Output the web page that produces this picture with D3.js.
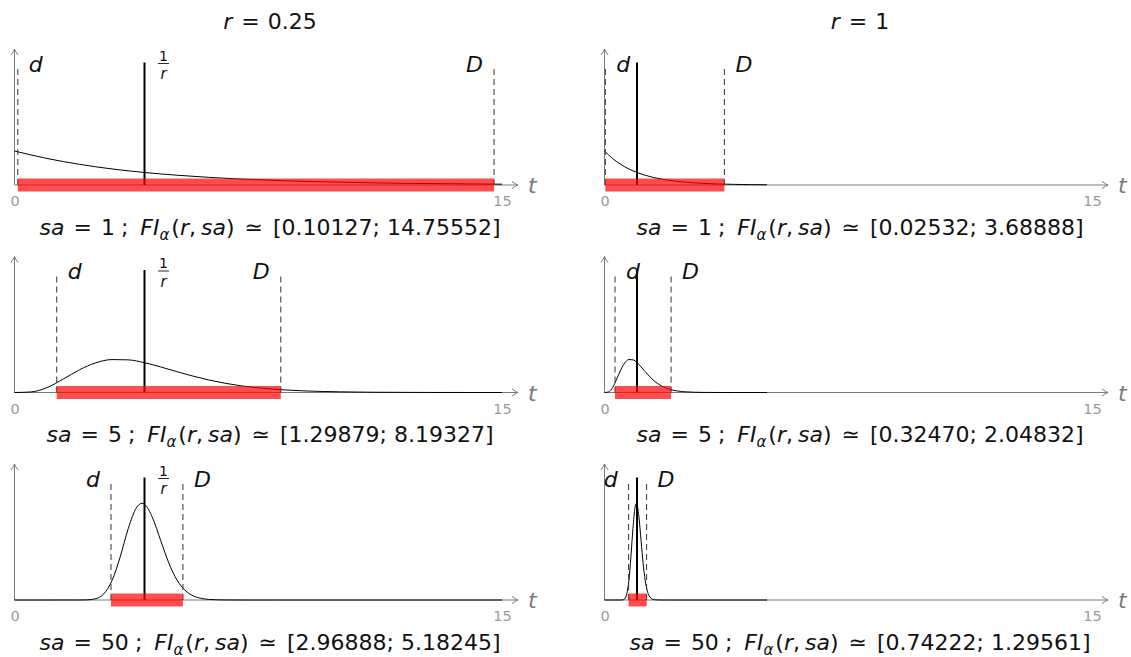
<!DOCTYPE html>
<html><head><meta charset="utf-8">
<script src="https://cdn.jsdelivr.net/npm/d3@7"></script>
<style>
body{margin:0;background:#fff}
svg{display:block}
text{font-family:"DejaVu Sans",sans-serif}
</style>
</head><body>
<svg id="chart" width="1131" height="657"></svg>
<script>
// ---------------- data ----------------
const rValues = [0.25, 1];
const rLabels = ["0.25", "1"];
const saValues = [1, 5, 50];
const inverseR = [4, 1];
const lowerBounds = [[0.10127, 1.29879, 2.96888], [0.02532, 0.32470, 0.74222]];
const upperBounds = [[14.75552, 8.19327, 5.18245], [3.68888, 2.04832, 1.29561]];
const lowerText = [["0.10127", "1.29879", "2.96888"], ["0.02532", "0.32470", "0.74222"]];
const upperText = [["14.75552", "8.19327", "5.18245"], ["3.68888", "2.04832", "1.29561"]];
const xTickValues = [0, 15];
const xTickLabels = ["0", "15"];
const yMaxByColumn = [1, 4];

// density curves (t, f)
const tR025Sa1 = [0,1,2,3,4,5,6,7,8,9,10,11,12,13,14,15];
const fR025Sa1 = [0.250,0.195,0.152,0.118,0.092,0.072,0.056,0.043,0.034,0.026,0.021,0.016,0.012,0.010,0.008,0.006];
const tR025Sa5 = [0,0.5,1,1.5,2,2.5,3,3.5,4,4.5,5,5.5,6,6.5,7,7.5,8,9,10,11,12,13,14,15];
const fR025Sa5 = [0,0.004,0.036,0.099,0.167,0.218,0.242,0.240,0.219,0.188,0.153,0.120,0.091,0.067,0.048,0.034,0.024,0.011,0.005,0.002,0.001,0.0003,0.0001,0];
const tR025Sa50 = [0,1,2,2.25,2.5,2.75,3,3.25,3.5,3.75,3.92,4,4.25,4.5,4.75,5,5.25,5.5,5.75,6,6.5,7,8,15];
const fR025Sa50 = [0,0,0.0001,0.0013,0.0097,0.046,0.143,0.316,0.525,0.678,0.711,0.704,0.603,0.436,0.271,0.147,0.071,0.030,0.012,0.004,0.0004,0,0,0];
const tR1Sa1 = [0,0.25,0.5,0.75,1,1.25,1.5,1.75,2,2.25,2.5,2.75,3,3.25,3.5,3.75,4,4.25,4.5,4.75,5];
const fR1Sa1 = [1,0.779,0.607,0.472,0.368,0.287,0.223,0.174,0.135,0.105,0.082,0.064,0.050,0.039,0.030,0.024,0.018,0.014,0.011,0.009,0.007];
const tR1Sa5 = [0,0.125,0.25,0.375,0.5,0.625,0.75,0.875,1,1.125,1.25,1.375,1.5,1.625,1.75,1.875,2,2.25,2.5,2.75,3,3.5,4,5];
const fR1Sa5 = [0,0.017,0.146,0.395,0.668,0.873,0.969,0.961,0.877,0.752,0.614,0.481,0.364,0.269,0.194,0.136,0.094,0.044,0.019,0.008,0.003,0.0004,0,0];
const tR1Sa50 = [0,0.25,0.5,0.5625,0.625,0.6875,0.75,0.8125,0.875,0.9375,0.98,1,1.0625,1.125,1.1875,1.25,1.3125,1.375,1.4375,1.5,1.625,1.75,2,5];
const fR1Sa50 = [0,0,0.0004,0.005,0.039,0.183,0.570,1.266,2.101,2.712,2.845,2.816,2.412,1.745,1.084,0.588,0.282,0.121,0.047,0.017,0.002,0,0,0];

const curveT = [[tR025Sa1, tR025Sa5, tR025Sa50], [tR1Sa1, tR1Sa5, tR1Sa50]];
const curveF = [[fR025Sa1, fR025Sa5, fR025Sa50], [fR1Sa1, fR1Sa5, fR1Sa50]];

// ---------------- layout ----------------
const colX0 = [14.5, 604.5];
const rowAxisY = [185, 392.5, 600];
const xSpan = 487.5;          // px for t in [0,15]
const xArrowLen = 503.5;      // px from origin to arrow tip
const yLen = 136;             // px of y axis
const meanLineH = 122.5;
const dashLineH = 119.5;
const dSide = [[1, 1, -1], [1, 1, -1]];
const DSide = [[-1, -1, 1], [1, 1, 1]];
const axisGray = "#7a7a7a";
const tickGray = "#9a9a9a";
const FS = 22;

const svg = d3.select("#chart");

function arrowHead(g, x, y, angle) {
  g.append("path")
    .attr("d", "M-6,-3.6 Q-2.5,-0.8 0,0 Q-2.5,0.8 -6,3.6")
    .attr("transform", `translate(${x},${y}) rotate(${angle})`)
    .attr("fill", "none").attr("stroke", axisGray).attr("stroke-width", 1);
}

function piece(t, txt, opts) {
  const s = t.append("tspan").text(txt);
  if (opts.i) s.attr("font-style", "italic");
  if (opts.dx) s.attr("dx", opts.dx);
  if (opts.dy) s.attr("dy", opts.dy);
  if (opts.fs) s.attr("font-size", opts.fs);
  return s;
}

function mathLine(sel, cx, y, sa, lo, hi) {
  const t = sel.append("text").attr("x", cx).attr("y", y)
    .attr("text-anchor", "middle").attr("font-size", FS).attr("fill", "#111");
  piece(t, "sa", {i: 1});
  piece(t, "=", {dx: 9});
  piece(t, String(sa), {dx: 9});
  piece(t, ";", {dx: 6});
  piece(t, "FI", {i: 1, dx: 12});
  piece(t, "α", {i: 1, fs: 15, dy: 5});
  piece(t, "(", {dy: -5, dx: 2});
  piece(t, "r", {i: 1});
  piece(t, ",", {});
  piece(t, "sa", {i: 1, dx: 5});
  piece(t, ")", {});
  piece(t, "≃", {dx: 10});
  piece(t, "[" + lo + ";", {dx: 10});
  piece(t, hi + "]", {dx: 7});
}

rValues.forEach((r, ci) => {
  const x0 = colX0[ci];
  const x = d3.scaleLinear().domain([0, 15]).range([x0, x0 + xSpan]);
  // column title
  const title = svg.append("text").attr("x", x0 + 255.5).attr("y", 29)
    .attr("text-anchor", "middle").attr("font-size", FS).attr("fill", "#111");
  piece(title, "r", {i: 1});
  piece(title, "=", {dx: 9});
  piece(title, rLabels[ci], {dx: 8});

  saValues.forEach((sa, ri) => {
    const ay = rowAxisY[ri];
    const y = d3.scaleLinear().domain([0, yMaxByColumn[ci]]).range([ay, ay - yLen]);
    const g = svg.append("g");

    // axes
    g.append("line").attr("x1", x0).attr("x2", x0 + xArrowLen).attr("y1", ay).attr("y2", ay)
      .attr("stroke", axisGray).attr("stroke-width", 1);
    arrowHead(g, x0 + xArrowLen, ay, 0);
    g.append("line").attr("x1", x0).attr("x2", x0).attr("y1", ay).attr("y2", ay - yLen)
      .attr("stroke", axisGray).attr("stroke-width", 1);
    arrowHead(g, x0, ay - yLen, -90);

    const ax = g.append("g").attr("transform", `translate(0,${ay})`)
      .call(d3.axisBottom(x).tickValues(xTickValues).tickFormat((d, i) => xTickLabels[i]).tickSize(0));
    ax.select(".domain").remove();
    ax.selectAll("text").attr("y", 21).attr("dy", 0).attr("font-size", 14.5)
      .attr("fill", tickGray).attr("font-family", "DejaVu Sans, sans-serif");

    g.append("text").attr("x", x0 + xArrowLen + 10).attr("y", ay + 8)
      .attr("font-size", FS).attr("font-style", "italic").attr("fill", axisGray).text("t");

    // density curve
    const pts = curveT[ci][ri].map((t, k) => [t, curveF[ci][ri][k]]);
    g.append("path").datum(pts)
      .attr("d", d3.line().x(d => x(d[0])).y(d => y(d[1])).curve(d3.curveMonotoneX))
      .attr("fill", "none").attr("stroke", "#000").attr("stroke-width", 1);

    // dashed bounds
    const lo = lowerBounds[ci][ri], hi = upperBounds[ci][ri];
    [lo, hi].forEach(v => {
      g.append("line").attr("x1", x(v)).attr("x2", x(v)).attr("y1", ay).attr("y2", ay - dashLineH)
        .attr("stroke", "#333").attr("stroke-width", 1).attr("stroke-dasharray", "6,4");
    });

    // 1/r line
    g.append("line").attr("x1", x(inverseR[ci])).attr("x2", x(inverseR[ci]))
      .attr("y1", ay).attr("y2", ay - meanLineH)
      .attr("stroke", "#000").attr("stroke-width", 2);

    // red interval bar
    g.append("rect").attr("x", x(lo)).attr("width", x(hi) - x(lo))
      .attr("y", ay - 6.5).attr("height", 13)
      .attr("fill", "red").attr("fill-opacity", 0.7);

    // labels d and D
    const lby = ay - 113.5;
    const ds = dSide[ci][ri];
    g.append("text").attr("x", x(lo) + ds * 11).attr("y", lby)
      .attr("text-anchor", ds > 0 ? "start" : "end")
      .attr("font-size", FS).attr("font-style", "italic").attr("fill", "#111").text("d");
    const Ds = DSide[ci][ri];
    g.append("text").attr("x", x(hi) + Ds * 11).attr("y", lby)
      .attr("text-anchor", Ds > 0 ? "start" : "end")
      .attr("font-size", FS).attr("font-style", "italic").attr("fill", "#111").text("D");

    // 1/r label (left column only)
    if (ci === 0) {
      const fx = x(inverseR[ci]) + 19;
      g.append("text").attr("x", fx).attr("y", ay - 124.5).attr("text-anchor", "middle")
        .attr("font-size", 14).attr("fill", "#111").text("1");
      g.append("line").attr("x1", fx - 5.5).attr("x2", fx + 5.5).attr("y1", ay - 121.5).attr("y2", ay - 121.5)
        .attr("stroke", "#111").attr("stroke-width", 0.9);
      g.append("text").attr("x", fx).attr("y", ay - 106).attr("text-anchor", "middle")
        .attr("font-size", 15).attr("font-style", "italic").attr("fill", "#111").text("r");
    }

    // bottom caption
    mathLine(g, x0 + 255.5, ay + 49.5, sa, lowerText[ci][ri], upperText[ci][ri]);
  });
});
</script>
</body></html>
